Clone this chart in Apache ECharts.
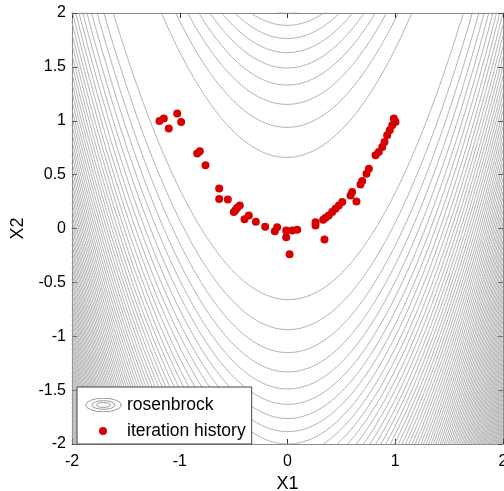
<!DOCTYPE html>
<html><head><meta charset="utf-8">
<script src="https://cdn.jsdelivr.net/npm/echarts@6/dist/echarts.min.js"></script>
<style>html,body{margin:0;padding:0;background:#fff}#c{width:504px;height:491px}</style>
</head><body><div id="c"></div>
<script>
// ---- data ----
const xTickStep = 1;
const yTickStep = 0.5;
const axisMin = -2, axisMax = 2;
// iteration history (X1, X2)
const iterX = [-1.188,-1.148,-1.024,-0.987,-1.102,-0.838,-0.814,-0.761,-0.634,-0.634,-0.554,-0.498,-0.482,-0.467,-0.443,-0.399,-0.359,-0.294,-0.207,-0.118,-0.096,-0.012,-0.012,0.044,0.090,0.019,
  0.260,0.260,0.343,0.331,0.353,0.383,0.415,0.445,0.476,0.508,0.640,0.585,0.600,0.677,0.693,0.733,0.755,0.817,0.847,0.879,0.900,0.925,0.949,0.972,0.987,1.002,0.995];
const iterY = [0.998,1.020,1.067,0.989,0.928,0.695,0.716,0.586,0.372,0.273,0.270,0.152,0.172,0.193,0.214,0.087,0.121,0.062,0.016,-0.025,0.012,-0.019,-0.081,-0.019,-0.012,-0.239,
  0.028,0.059,-0.102,0.081,0.100,0.121,0.152,0.183,0.214,0.245,0.251,0.307,0.338,0.409,0.440,0.509,0.555,0.679,0.710,0.756,0.803,0.865,0.912,0.958,1.020,0.989,1.000];
// contour levels of the rosenbrock surface: evenly spaced between its min and max on the box
const contourZMax = 3609;
const contourLevelCount = 80;
const seriesNames = ['rosenbrock', 'iteration history'];

// ---- build contour polylines of f = 100(x2 - x1^2)^2 + (1 - x1)^2 ----
const contourData = [];
const N = 500;
for (let k = 1; k <= contourLevelCount; k++) {
  const c = k * contourZMax / (contourLevelCount + 1);
  for (const s of [-1, 1]) {
    const pts = [];
    for (let i = 0; i <= N; i++) {
      const x = axisMin + (axisMax - axisMin) * i / N;
      const r = c - (1 - x) * (1 - x);
      if (r < 0) { pts.push(null); continue; }
      pts.push([x, x * x + s * Math.sqrt(r) / 10]);
    }
    const inside = p => p && p[1] >= -2.2 && p[1] <= 2.2;
    let open = false;
    for (let i = 0; i < pts.length; i++) {
      const keep = inside(pts[i]) || inside(pts[i - 1]) || inside(pts[i + 1]);
      if (keep && pts[i]) { contourData.push(pts[i]); open = true; }
      else if (open) { contourData.push([null, null]); open = false; }
    }
    if (open) contourData.push([null, null]);
  }
}
const iterData = iterX.map((x, i) => [x, iterY[i]]);

const svgUrl = s => 'image://data:image/svg+xml;charset=utf-8,' + encodeURIComponent(s);
const contourIcon = svgUrl('<svg xmlns="http://www.w3.org/2000/svg" width="37" height="15" viewBox="0 0 37 15"><g fill="none" stroke="#9a9a9a" stroke-width="1"><ellipse cx="18.5" cy="7.5" rx="17.8" ry="6.8"/><ellipse cx="18.5" cy="7.5" rx="11.5" ry="4.3"/><ellipse cx="18.5" cy="7.5" rx="7" ry="2.4"/></g></svg>');
const dotIcon = svgUrl('<svg xmlns="http://www.w3.org/2000/svg" width="37" height="15" viewBox="0 0 37 15"><circle cx="18" cy="7.5" r="4" fill="#d80000"/></svg>');

const font = 'Liberation Sans, Arial, Helvetica, sans-serif';
const lineCol = '#8a8a8a';
function axis(extra) {
  return Object.assign({
    type: 'value', min: axisMin, max: axisMax,
    axisLine: { show: true, onZero: false, lineStyle: { color: lineCol, width: 1 } },
    axisTick: { show: true, inside: true, length: 5, lineStyle: { color: '#333' } },
    splitLine: { show: false },
    axisLabel: { color: '#000', fontSize: 16, fontFamily: font }
  }, extra);
}
const chart = echarts.init(document.getElementById('c'), null, { renderer: 'canvas' });
chart.setOption({
  animation: false,
  backgroundColor: '#fff',
  grid: { left: 72, right: 1, top: 13, bottom: 47, containLabel: false, outerBoundsMode: 'none' },
  xAxis: [
    axis({ position: 'bottom', interval: xTickStep, name: 'X1', nameLocation: 'middle', nameGap: 29,
      nameTextStyle: { color: '#000', fontSize: 18, fontFamily: font },
      axisLabel: { color: '#000', fontSize: 16, fontFamily: font, margin: 10 } }),
    axis({ position: 'top', interval: xTickStep, axisLabel: { show: false } })
  ],
  yAxis: [
    axis({ position: 'left', interval: yTickStep, name: 'X2', nameLocation: 'middle', nameGap: 38,
      nameTextStyle: { color: '#000', fontSize: 18, fontFamily: font },
      axisLabel: { color: '#000', fontSize: 16, fontFamily: font, margin: 6 } }),
    axis({ position: 'right', interval: yTickStep, axisLabel: { show: false } })
  ],
  legend: {
    orient: 'vertical', left: 77, top: 387, selectedMode: false,
    backgroundColor: '#fff', borderColor: '#444', borderWidth: 1,
    padding: [9, 6, 4, 8], itemGap: 8, itemWidth: 37, itemHeight: 15,
    textStyle: { color: '#000', fontSize: 17.5, fontFamily: font, lineHeight: 15 },
    data: [{ name: seriesNames[0], icon: contourIcon }, { name: seriesNames[1], icon: dotIcon }]
  },
  series: [
    { name: seriesNames[0], type: 'line', xAxisIndex: 0, yAxisIndex: 0, data: contourData,
      showSymbol: false, symbol: 'none', clip: true, connectNulls: false, silent: true,
      lineStyle: { color: '#a0a0a0', width: 0.8 }, itemStyle: { color: '#a0a0a0' }, z: 1 },
    { name: seriesNames[1], type: 'scatter', xAxisIndex: 0, yAxisIndex: 0, data: iterData,
      symbol: 'circle', symbolSize: 8, itemStyle: { color: '#d60000', opacity: 1 }, z: 3 }
  ]
});
</script>
</body></html>
